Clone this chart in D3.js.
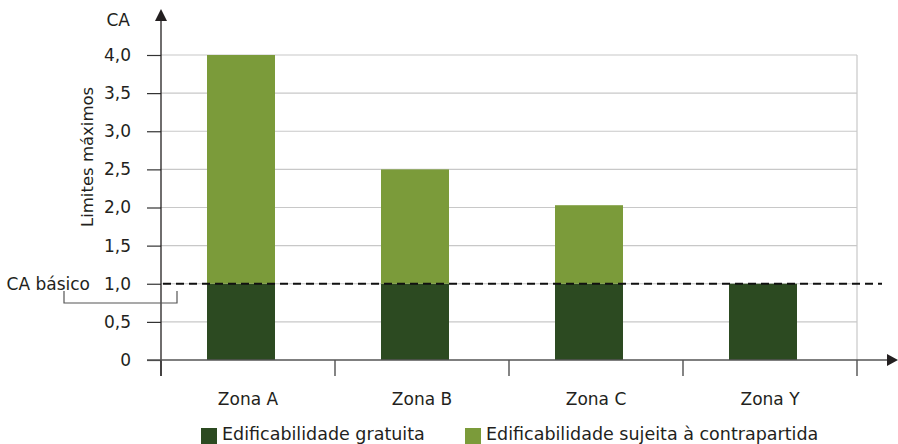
<!DOCTYPE html>
<html><head><meta charset="utf-8">
<script src="https://cdn.jsdelivr.net/npm/d3@7"></script>
<style>
body{margin:0;background:#fff;}
text{font-family:"DejaVu Sans",sans-serif;fill:#231f20;}
</style></head>
<body><svg id="c" width="898" height="444"></svg>
<script>
const categories = ["Zona A","Zona B","Zona C","Zona Y"];
const gratuita = [1.0, 1.0, 1.0, 1.0];
const contrapartida = [3.0, 1.5, 1.03, 0];
const yTicks = [0,0.5,1,1.5,2,2.5,3,3.5,4];
const yTickLabels = ["0","0,5","1,0","1,5","2,0","2,5","3,0","3,5","4,0"];
const seriesNames = ["Edificabilidade gratuita","Edificabilidade sujeita à contrapartida"];
const caBasico = 1.0;

const colors = ["#2c4a21","#7b9b3a"];
const FONT = "DejaVu Sans";
const svg = d3.select("#c");
const x0 = 161, x1 = 857, yTop = 55, yBot = 360;
const x = d3.scaleBand().domain(categories).range([x0,x1]).paddingInner(0).paddingOuter(0);
const y = d3.scaleLinear().domain([0,4]).range([yBot,yTop]);

// gridlines
svg.append("g").selectAll("line").data(yTicks.filter(d=>d>0)).join("line")
  .attr("x1",x0).attr("x2",x1).attr("y1",d=>y(d)).attr("y2",d=>y(d))
  .attr("stroke","#c8c8c8").attr("stroke-width",1.2);
svg.append("line").attr("x1",x1).attr("x2",x1).attr("y1",y(4)).attr("y2",yBot)
  .attr("stroke","#c8c8c8").attr("stroke-width",1.2);

// bars
const stack = categories.map((c,i)=>({c, g:gratuita[i], k:contrapartida[i]}));
const bw = 68, off = 46;
svg.append("g").selectAll("rect").data(stack).join("rect")
  .attr("x",d=>x(d.c)+off).attr("width",bw)
  .attr("y",d=>y(d.g)).attr("height",d=>y(0)-y(d.g)).attr("fill",colors[0]);
svg.append("g").selectAll("rect").data(stack.filter(d=>d.k>0)).join("rect")
  .attr("x",d=>x(d.c)+off).attr("width",bw)
  .attr("y",d=>y(d.g+d.k)).attr("height",d=>y(d.g)-y(d.g+d.k)).attr("fill",colors[1]);

// y axis ticks
const yAxis = d3.axisLeft(y).tickValues(yTicks).tickSize(14)
  .tickFormat((d,i)=>yTickLabels[i]).tickPadding(16);
const ga = svg.append("g").attr("transform",`translate(${x0},0)`).call(yAxis);
ga.select(".domain").remove();
ga.selectAll(".tick line").attr("stroke","#333").attr("stroke-width",1.2);
ga.selectAll(".tick text").attr("font-size",17).attr("font-family",FONT).attr("fill","#231f20");

// x axis ticks at boundaries
const bounds = categories.map(c=>x(c)).concat([x1]);
svg.append("g").selectAll("line").data(bounds).join("line")
  .attr("x1",d=>d).attr("x2",d=>d).attr("y1",yBot).attr("y2",376)
  .attr("stroke","#333").attr("stroke-width",1.2);
svg.append("g").selectAll("text").data(categories).join("text")
  .attr("x",d=>x(d)+x.bandwidth()/2).attr("y",405).attr("text-anchor","middle")
  .attr("font-size",17).text(d=>d);

// axes lines with arrows
svg.append("line").attr("x1",x0).attr("x2",x0).attr("y1",376).attr("y2",20)
  .attr("stroke","#231f20").attr("stroke-width",1.3);
svg.append("path").attr("d",`M${x0-6},21 L${x0},9 L${x0+6},21 Z`).attr("fill","#231f20");
svg.append("line").attr("x1",147).attr("x2",888).attr("y1",yBot).attr("y2",yBot)
  .attr("stroke","#555").attr("stroke-width",1.3);
svg.append("path").attr("d",`M887,${yBot-6} L898,${yBot} L887,${yBot+6} Z`).attr("fill","#231f20");

// dashed CA basico line
svg.append("line").attr("x1",163).attr("x2",882).attr("y1",y(caBasico)).attr("y2",y(caBasico))
  .attr("stroke","#111").attr("stroke-width",2).attr("stroke-dasharray","8,5");

// labels
svg.append("text").attr("x",130).attr("y",26).attr("text-anchor","end").attr("font-size",17).text("CA");
svg.append("text").attr("x",90).attr("y",y(caBasico)+6).attr("text-anchor","end").attr("font-size",17).text("CA básico");
svg.append("path").attr("d",`M64,291 V303 H177 V291`).attr("fill","none").attr("stroke","#555").attr("stroke-width",1.2);
svg.append("text").attr("transform","translate(93,227) rotate(-90)").attr("font-size",16.5).text("Limites máximos");

// legend
const lg = [{x:201,t:seriesNames[0],c:colors[0]},{x:465,t:seriesNames[1],c:colors[1]}];
const L = svg.append("g").selectAll("g").data(lg).join("g");
L.append("rect").attr("x",d=>d.x).attr("y",428).attr("width",16).attr("height",16).attr("fill",d=>d.c);
L.append("text").attr("x",d=>d.x+21).attr("y",440).attr("font-size",17.5).text(d=>d.t);
</script></body></html>
